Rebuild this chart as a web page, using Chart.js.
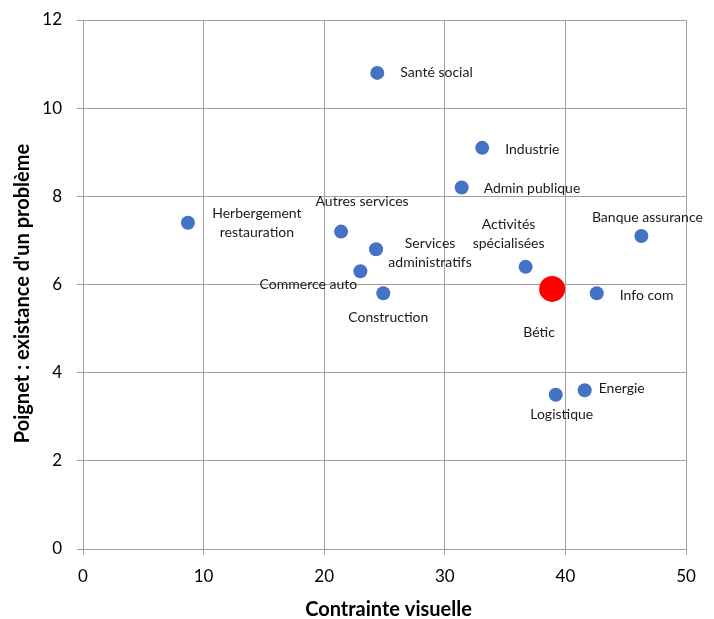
<!DOCTYPE html>
<html lang="fr">
<head>
<meta charset="utf-8">
<title>Contrainte visuelle et poignet par secteur</title>
<script src="https://cdn.jsdelivr.net/npm/chart.js@4.4.1/dist/chart.umd.min.js"></script>
<style>
  html, body { margin: 0; padding: 0; background: #ffffff; }
  #wrap { width: 714px; height: 619px; }
</style>
</head>
<body>
<div id="wrap"><canvas id="chart" width="714" height="619"></canvas></div>
<script>
// Secteurs d'activité
const sectors = [
  'Santé social', 'Industrie', 'Admin publique', 'Herbergement restauration',
  'Autres services', 'Services administratifs', 'Commerce auto', 'Construction',
  'Activités spécialisées', 'Banque assurance', 'Info com', 'Energie', 'Logistique'
];
// Contrainte visuelle (axe X)
const visualStrain = [24.4, 33.1, 31.4, 8.7, 21.4, 24.3, 23.0, 24.9, 36.7, 46.3, 42.6, 41.6, 39.2];
// Poignet : existence d'un problème (axe Y)
const wristProblem = [10.8, 9.1, 8.2, 7.4, 7.2, 6.8, 6.3, 5.8, 6.4, 7.1, 5.8, 3.6, 3.5];

// Point de référence Bétic
const reference = ['Bétic'];
const referenceX = [38.9];
const referenceY = [5.9];

// Graduations des axes
const xTicks = [0, 10, 20, 30, 40, 50];
const yTicks = [0, 2, 4, 6, 8, 10, 12];

// Titres des axes
const xTitle = 'Contrainte visuelle';
const yTitle = "Poignet : existance d'un problème";

// Placement des étiquettes autour de chaque point (décalage en pixels)
const labelPlacement = {
  'Santé social':              { dx: 23,  dy: 0,   align: 'left',   lines: ['Santé social'] },
  'Industrie':                 { dx: 23,  dy: 2,   align: 'left',   lines: ['Industrie'] },
  'Admin publique':            { dx: 22,  dy: 1,   align: 'left',   lines: ['Admin publique'] },
  'Herbergement restauration': { dx: 69,  dy: -9,  align: 'center', lines: ['Herbergement', 'restauration'] },
  'Autres services':           { dx: 21,  dy: -30, align: 'center', lines: ['Autres services'] },
  'Services administratifs':   { dx: 54,  dy: -6,  align: 'center', lines: ['Services', 'administratifs'] },
  'Commerce auto':             { dx: -52, dy: 13,  align: 'center', lines: ['Commerce auto'] },
  'Construction':              { dx: 5,   dy: 24,  align: 'center', lines: ['Construction'] },
  'Activités spécialisées':    { dx: -17, dy: -42, align: 'center', lines: ['Activités', 'spécialisées'] },
  'Banque assurance':          { dx: 6,   dy: -19, align: 'center', lines: ['Banque assurance'] },
  'Info com':                  { dx: 23,  dy: 2,   align: 'left',   lines: ['Info com'] },
  'Energie':                   { dx: 14,  dy: -2,  align: 'left',   lines: ['Energie'] },
  'Logistique':                { dx: 6,   dy: 20,  align: 'center', lines: ['Logistique'] },
  'Bétic':                     { dx: -13, dy: 44,  align: 'center', lines: ['Bétic'] }
};

const FONT = 'Lato, "Open Sans", sans-serif';
const GRID = '#a0a0a0';

// Étiquettes de points dessinées à côté de chaque marqueur
const pointLabels = {
  id: 'pointLabels',
  afterDatasetsDraw(chart) {
    const ctx = chart.ctx;
    ctx.save();
    ctx.font = '14px ' + FONT;
    ctx.fillStyle = '#1a1a1a';
    ctx.textBaseline = 'middle';
    chart.data.datasets.forEach((ds, di) => {
      const meta = chart.getDatasetMeta(di);
      meta.data.forEach((el, i) => {
        const name = ds.names[i];
        const p = labelPlacement[name];
        if (!p) return;
        ctx.textAlign = p.align;
        p.lines.forEach((line, k) => {
          ctx.fillText(line, el.x + p.dx, el.y + p.dy + k * 19);
        });
      });
    });
    ctx.restore();
  }
};

// Titres des axes, placés par rapport à la zone de tracé
const axisTitles = {
  id: 'axisTitles',
  afterDraw(chart) {
    const ctx = chart.ctx;
    const a = chart.chartArea;
    ctx.save();
    ctx.font = 'bold 20px ' + FONT;
    ctx.fillStyle = '#000';
    ctx.textAlign = 'center';
    ctx.textBaseline = 'middle';
    ctx.fillText(xTitle, (a.left + a.right) / 2 + 4, chart.height - 9);
    ctx.translate(23, (a.top + a.bottom) / 2 + 9);
    ctx.rotate(-Math.PI / 2);
    ctx.fillText(yTitle, 0, 0);
    ctx.restore();
  }
};

function buildChart() {
  Chart.defaults.font.family = FONT;
  Chart.defaults.color = '#000000';

  new Chart(document.getElementById('chart'), {
    type: 'scatter',
    data: {
      datasets: [
        {
          names: sectors,
          data: sectors.map((s, i) => ({ x: visualStrain[i], y: wristProblem[i] })),
          backgroundColor: '#4472C4',
          borderColor: '#4472C4',
          pointRadius: 7,
          pointHoverRadius: 7,
          borderWidth: 0
        },
        {
          names: reference,
          data: reference.map((s, i) => ({ x: referenceX[i], y: referenceY[i] })),
          backgroundColor: '#FF0000',
          borderColor: '#FF0000',
          pointRadius: 13,
          pointHoverRadius: 13,
          borderWidth: 0
        }
      ]
    },
    options: {
      responsive: false,
      animation: false,
      events: [],
      layout: { autoPadding: false, padding: { left: 0, right: 28, top: 20, bottom: 0 } },
      plugins: { legend: { display: false }, tooltip: { enabled: false } },
      scales: {
        x: {
          type: 'linear',
          min: 0, max: 50,
          afterBuildTicks: (scale) => { scale.ticks = xTicks.map(v => ({ value: v })); },
          afterFit: (scale) => { scale.height = 70; },
          grid: { color: GRID, lineWidth: 1, tickLength: 6, tickColor: GRID },
          border: { color: GRID, width: 1 },
          ticks: { font: { size: 17 }, padding: 11, color: '#000', maxRotation: 0 }
        },
        y: {
          type: 'linear',
          min: 0, max: 12,
          afterBuildTicks: (scale) => { scale.ticks = yTicks.map(v => ({ value: v })); },
          afterFit: (scale) => {
            scale.width = 83;
            scale.paddingTop = 0;
            scale.paddingBottom = 0;
          },
          grid: { color: GRID, lineWidth: 1, tickLength: 6, tickColor: GRID },
          border: { color: GRID, width: 1 },
          ticks: { font: { size: 17 }, padding: 15, color: '#000' }
        }
      }
    },
    plugins: [pointLabels, axisTitles]
  });
}

Promise.all([
  document.fonts.load('14px Lato'),
  document.fonts.load('17px Lato'),
  document.fonts.load('bold 20px Lato')
]).then(buildChart, buildChart);
</script>
</body>
</html>
